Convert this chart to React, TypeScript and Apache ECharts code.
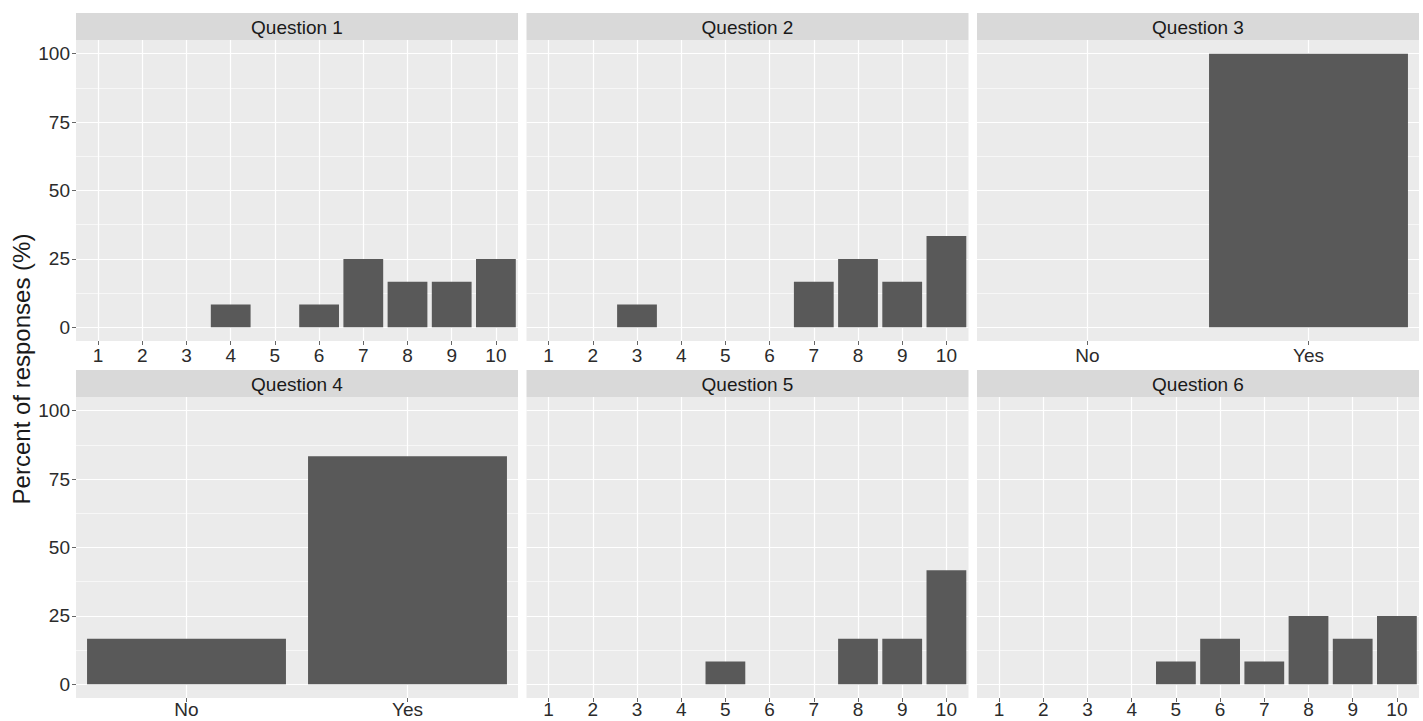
import React, { useEffect, useRef } from "react";
import * as echarts from "echarts";

// ---- data ----
const panelTitles = ["Question 1", "Question 2", "Question 3", "Question 4", "Question 5", "Question 6"];
const scaleCategories = ["1", "2", "3", "4", "5", "6", "7", "8", "9", "10"];
const yesNoCategories = ["No", "Yes"];
const q1Values = [0, 0, 0, 8.33, 0, 8.33, 25, 16.67, 16.67, 25];
const q2Values = [0, 0, 8.33, 0, 0, 0, 16.67, 25, 16.67, 33.33];
const q3Values = [0, 100];
const q4Values = [16.67, 83.33];
const q5Values = [0, 0, 0, 0, 8.33, 0, 0, 16.67, 16.67, 41.67];
const q6Values = [0, 0, 0, 0, 8.33, 16.67, 8.33, 25, 16.67, 25];
const yMin = 0;
const yMax = 100;
const yStep = 25;
const yTitle = "Percent of responses (%)";

const panelCategories = [scaleCategories, scaleCategories, yesNoCategories, yesNoCategories, scaleCategories, scaleCategories];
const panelValues = [q1Values, q2Values, q3Values, q4Values, q5Values, q6Values];

// ---- layout / style ----
const FONT = "'Liberation Sans', Arial, Helvetica, sans-serif";
const colLefts = [76, 526.5, 977];
const panelW = 442;
const stripTops = [13, 370];
const stripH = 27;
const panelH = 301;
const expandPx = 13.7;
const panelBg = "#EBEBEB";
const stripBg = "#D9D9D9";
const barColor = "#595959";
const labelColor = "#2b2b2b";
const tickColor = "#666666";

function buildOption() {
  const grid: any[] = [];
  const xAxis: any[] = [];
  const yAxis: any[] = [];
  const series: any[] = [];
  const graphic: any[] = [];

  panelTitles.forEach((title, i) => {
    const r = Math.floor(i / 3);
    const c = i % 3;
    const left = colLefts[c];
    const pTop = stripTops[r] + stripH;
    const cats = panelCategories[i];

    // background grid (full panel incl. expansion)
    grid.push({
      left,
      top: pTop,
      width: panelW,
      height: panelH,
      show: true,
      backgroundColor: panelBg,
      borderWidth: 0,
      containLabel: false,
      outerBoundsMode: "none",
    });
    // data grid (0..100)
    grid.push({
      left,
      top: pTop + expandPx,
      width: panelW,
      height: panelH - 2 * expandPx,
      show: false,
      containLabel: false,
      outerBoundsMode: "none",
    });

    xAxis.push({
      type: "category",
      gridIndex: 2 * i,
      data: cats,
      boundaryGap: true,
      position: "bottom",
      axisLine: { show: false },
      axisTick: { show: true, alignWithLabel: true, interval: 0, length: 4, lineStyle: { color: tickColor, width: 1 } },
      axisLabel: {
        show: true,
        interval: 0,
        fontSize: 19,
        lineHeight: 18,
        color: labelColor,
        fontFamily: FONT,
        margin: r === 0 ? 5 : 2,
      },
      splitLine: { show: false },
    });
    yAxis.push({ type: "value", gridIndex: 2 * i, min: 0, max: 1, show: false });

    xAxis.push({
      type: "category",
      gridIndex: 2 * i + 1,
      data: cats,
      boundaryGap: true,
      show: false,
    });
    yAxis.push({
      type: "value",
      gridIndex: 2 * i + 1,
      min: yMin,
      max: yMax,
      interval: yStep,
      axisLine: { show: false },
      axisTick: { show: c === 0, length: 4, lineStyle: { color: tickColor, width: 1 } },
      axisLabel: { show: c === 0, fontSize: 19, color: labelColor, fontFamily: FONT, margin: 6 },
      splitLine: { show: true, lineStyle: { color: "#ffffff", width: 1.2 } },
      minorTick: { show: false, splitNumber: 2 },
      minorSplitLine: { show: true, lineStyle: { color: "#ffffff", width: 0.6 } },
    });

    // vertical major grid lines at each category centre (full panel height)
    series.push({
      type: "line",
      name: title + " grid",
      xAxisIndex: 2 * i,
      yAxisIndex: 2 * i,
      data: [],
      silent: true,
      markLine: {
        silent: true,
        z: 1,
        symbol: ["none", "none"],
        label: { show: false },
        lineStyle: { color: "#ffffff", width: 1.2, type: "solid" },
        emphasis: { disabled: true },
        data: cats.map((cat) => ({ xAxis: cat })),
      },
    });

    series.push({
      type: "bar",
      name: title,
      xAxisIndex: 2 * i + 1,
      yAxisIndex: 2 * i + 1,
      data: panelValues[i],
      barWidth: "90%",
      itemStyle: { color: barColor },
      silent: true,
      z: 3,
    });

    graphic.push({
      type: "rect",
      shape: { x: left, y: stripTops[r], width: panelW, height: stripH },
      style: { fill: stripBg },
      silent: true,
    });
    graphic.push({
      type: "text",
      x: left + panelW / 2,
      y: stripTops[r] + stripH / 2 + 1,
      style: {
        text: title,
        fill: "#1a1a1a",
        fontSize: 19,
        fontFamily: FONT,
        align: "center",
        verticalAlign: "middle",
      },
      silent: true,
    });
  });

  graphic.push({
    type: "text",
    x: 21,
    y: 369,
    rotation: Math.PI / 2,
    style: {
      text: yTitle,
      fill: "#1a1a1a",
      fontSize: 24,
      fontFamily: FONT,
      align: "center",
      verticalAlign: "middle",
    },
    silent: true,
  });

  return {
    animation: false,
    backgroundColor: "#ffffff",
    textStyle: { fontFamily: FONT },
    grid,
    xAxis,
    yAxis,
    series,
    graphic,
  };
}

export default function App() {
  const ref = useRef<HTMLDivElement>(null);
  useEffect(() => {
    if (!ref.current) return;
    const chart = echarts.init(ref.current, undefined, { renderer: "svg" });
    chart.setOption(buildOption() as any);
    return () => {
      chart.dispose();
    };
  }, []);
  return (
    <div
      ref={ref}
      style={{ position: "absolute", left: 0, top: 0, width: 1423, height: 721, background: "#fff" }}
    />
  );
}
